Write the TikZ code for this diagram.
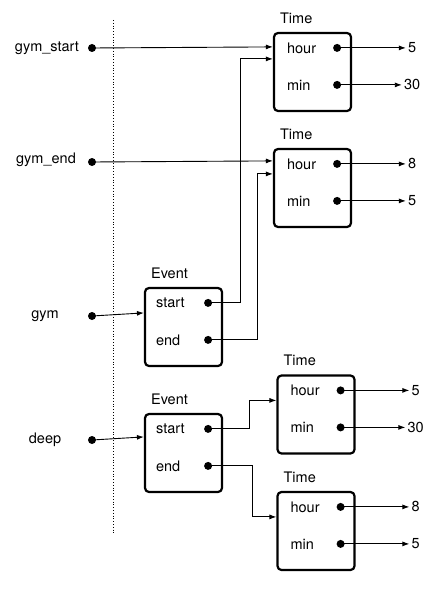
\documentclass[tikz,border=0pt]{standalone}
\usepackage{fontspec}
\setmainfont{TeX Gyre Heros}
\usetikzlibrary{arrows.meta}
\usetikzlibrary{positioning}

\begin{document}
\begin{tikzpicture}[x=1pt,y=-1pt,>={Latex[length=7pt,width=5pt]},
	font=\fontsize{14.5}{17}\selectfont,
	obj box/.style={draw,line width=2.2pt,rounded corners=4pt,minimum width=77pt,minimum height=78pt},
	type name/.style={anchor=south west,inner sep=2pt},
	ptr/.style={circle,fill,inner sep=0pt,minimum size=8pt},
	field/.style={anchor=west,inner sep=0pt},
	val/.style={inner sep=2pt},
	link/.style={->,line width=0.9pt}]
	
	\useasboundingbox (0,0) rectangle (437,591);
	
	% frame boundary
	\draw[dotted,line width=0.8pt] (113,20) -- (113,533);
	
	% objects
	\node[obj box] (t1) at (312.5,72) {};
	\node[obj box] (t2) at (312.5,188) {};
	\node[obj box] (e1) at (183.5,327) {};
	\node[obj box] (e2) at (183.5,453) {};
	\node[obj box] (t3) at (316,414.5) {};
	\node[obj box] (t4) at (316,531) {};
	
	\foreach \b/\t in {t1/Time,t2/Time,t3/Time,t4/Time,e1/Event,e2/Event}
	\node[type name] at ([xshift=5pt,yshift=6pt]\b.north west) {\t};
	
	% fields of the Time objects
	\foreach \b in {t1,t2,t3,t4} {
		\node[field] at ([xshift=14pt,yshift=-16pt]\b.north west) {hour};
		\node[field] at ([xshift=14pt,yshift=-53pt]\b.north west) {min};
		\node[ptr] (\b h) at ([xshift=-15pt,yshift=-16pt]\b.north east) {};
		\node[ptr] (\b m) at ([xshift=-15pt,yshift=-53pt]\b.north east) {};
	}
	
	% fields of the Event objects
	\foreach \b in {e1,e2} {
		\node[field] at ([xshift=12pt,yshift=-16pt]\b.north west) {start};
		\node[field] at ([xshift=12pt,yshift=-53pt]\b.north west) {end};
		\node[ptr] (\b s) at ([xshift=-15pt,yshift=-16pt]\b.north east) {};
		\node[ptr] (\b e) at ([xshift=-15pt,yshift=-53pt]\b.north east) {};
	}
	
	% values
	\node[val] (v1h) at ([xshift=60pt]t1h -| t1.east) {5};
	\node[val] (v1m) at ([xshift=60pt]t1m -| t1.east) {30};
	\node[val] (v2h) at ([xshift=60pt]t2h -| t2.east) {8};
	\node[val] (v2m) at ([xshift=60pt]t2m -| t2.east) {5};
	\node[val] (v3h) at ([xshift=60pt]t3h -| t3.east) {5};
	\node[val] (v3m) at ([xshift=60pt]t3m -| t3.east) {30};
	\node[val] (v4h) at ([xshift=60pt]t4h -| t4.east) {8};
	\node[val] (v4m) at ([xshift=60pt]t4m -| t4.east) {5};
	
	\foreach \b/\v in {t1/v1,t2/v2,t3/v3,t4/v4} {
		\draw[link] (\b h.center) -- (\v h.west);
		\draw[link] (\b m.center) -- (\v m.west);
	}
	
	% variables
	\node[ptr] (gs) at (92,48) {};
	\node[ptr] (ge) at (92,162) {};
	\node[ptr] (gy) at (92,316) {};
	\node[ptr] (dp) at (92,440) {};
	\node at (47,48) {gym\_start};
	\node at (46,160) {gym\_end};
	\node at (45,316) {gym};
	\node at (45,440) {deep};
	
	\draw[link] (gs.center) -- ([yshift=-15pt]t1.north west);
	\draw[link] (ge.center) -- ([yshift=-13pt]t2.north west);
	\draw[link] (gy.center) -- ([yshift=-26pt]e1.north west);
	\draw[link] (dp.center) -- ([yshift=-24pt]e2.north west);
	
	% references between objects
	\draw[link] (e1s.center) -- ++(32,0) |- ([yshift=-27pt]t1.north west);
	\draw[link] (e1e.center) -- ++(49,0) |- ([yshift=-26pt]t2.north west);
	\draw[link] (e2s.center) -- ++(41,0) |- ([yshift=-26pt]t3.north west);
	\draw[link] (e2e.center) -- ++(44,0) |- ([yshift=-26pt]t4.north west);
\end{tikzpicture}
\end{document}
